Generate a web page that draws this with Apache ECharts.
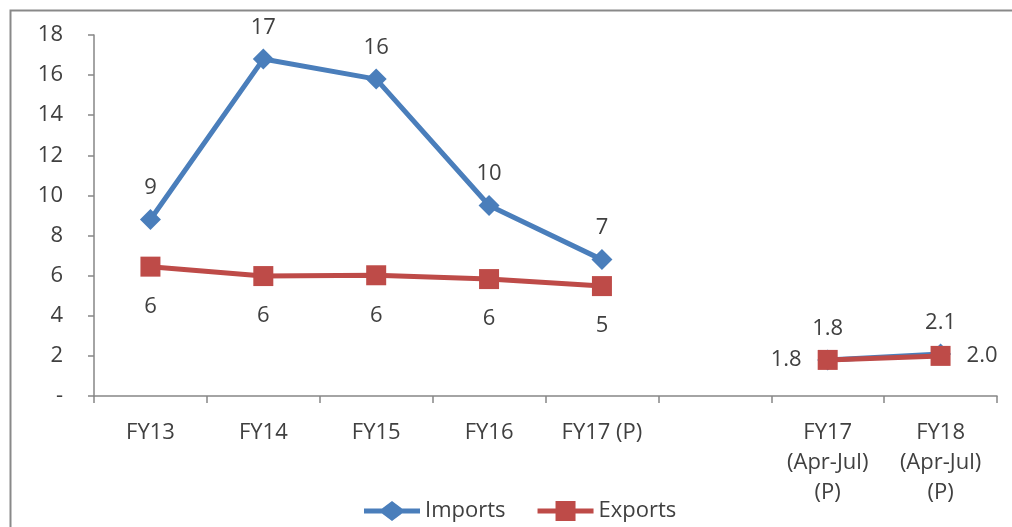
<!DOCTYPE html>
<html lang="en">
<head>
    <meta charset="UTF-8">
    <title>Imports and Exports</title>
    <script src="https://cdn.jsdelivr.net/npm/echarts@6/dist/echarts.min.js"></script>
    <style>
        html, body { margin: 0; padding: 0; background: #fff; }
    </style>
</head>
<body>
<div id="main" style="width: 1012px;height:527px;"></div>
<script>
    // data
    let categories = ['FY13', 'FY14', 'FY15', 'FY16', 'FY17 (P)', '', 'FY17\n(Apr-Jul)\n(P)', 'FY18\n(Apr-Jul)\n(P)'];
    let imports = [8.8, 16.8, 15.8, 9.5, 6.8, null, 1.8, 2.1];
    let exports = [6.45, 5.98, 6.02, 5.83, 5.48, null, 1.8, 2.0];
    // label placement per point (exports at the two quarterly points sit beside the mark)
    let exportLabelPos = ['bottom', 'bottom', 'bottom', 'bottom', 'bottom', 'bottom', 'left', 'right'];

    let textColor = '#404040';
    let font = 'Open Sans';
    let fs = 22;

    // legend icons: thick line with the marker in the middle
    let diamondIcon = 'path://M0,7.5L18,7.5L28,0L38,7.5L56,7.5L56,12.5L38,12.5L28,20L18,12.5L0,12.5Z';
    let squareIcon = 'path://M0,7.5L18,7.5L18,0L38,0L38,7.5L56,7.5L56,12.5L38,12.5L38,20L18,20L18,12.5L0,12.5Z';

    function fmt(v) {
        // yearly values shown rounded, the Apr-Jul ones with one decimal
        return v < 3 ? v.toFixed(1) : String(Math.round(v));
    }

    let chartDom = document.getElementById('main');
    let myChart = echarts.init(chartDom);
    let option;

    option = {
        animation: false,
        textStyle: { fontFamily: font },
        graphic: [
            {
                type: 'rect',
                left: 8, top: 8,
                shape: { width: 1100, height: 600 },
                style: { fill: 'none', stroke: '#898989', lineWidth: 2 },
                silent: true
            }
        ],
        grid: { left: 94, right: 15, top: 35, bottom: 131 },
        legend: {
            bottom: 0,
            left: 359,
            itemWidth: 56,
            itemHeight: 20,
            itemGap: 32,
            textStyle: { fontSize: fs, color: textColor, fontFamily: font },
            data: [
                { name: 'Imports', icon: diamondIcon },
                { name: 'Exports', icon: squareIcon }
            ]
        },
        xAxis: {
            type: 'category',
            data: categories,
            boundaryGap: true,
            axisLine: { lineStyle: { color: '#868686', width: 1.5 } },
            axisTick: { show: true, length: 7, lineStyle: { color: '#868686', width: 1.5 } },
            axisLabel: {
                color: textColor,
                fontSize: fs,
                fontFamily: font,
                lineHeight: 30,
                margin: 22,
                interval: 0
            }
        },
        yAxis: {
            type: 'value',
            min: 0,
            max: 18,
            interval: 2,
            splitLine: { show: false },
            axisLine: { show: true, lineStyle: { color: '#868686', width: 1.5 } },
            axisTick: { show: true, length: 6, lineStyle: { color: '#868686', width: 1.5 } },
            axisLabel: {
                color: textColor,
                fontSize: fs,
                fontFamily: font,
                margin: 31,
                formatter: function (v) { return v === 0 ? '-' : v; }
            }
        },
        series: [
            {
                name: 'Imports',
                type: 'line',
                data: imports,
                connectNulls: false,
                symbol: 'diamond',
                symbolSize: 21,
                color: '#4a7ebb',
                lineStyle: { width: 5, color: '#4a7ebb' },
                itemStyle: { color: '#4a7ebb' },
                label: {
                    show: true,
                    position: 'top',
                    distance: 10,
                    color: textColor,
                    fontSize: fs,
                    fontFamily: font,
                    formatter: function (p) { return fmt(p.value); }
                },
                z: 2
            },
            {
                name: 'Exports',
                type: 'line',
                data: exports.map(function (v, i) {
                    return {
                        value: v,
                        label: { position: exportLabelPos[i], distance: exportLabelPos[i] === 'bottom' ? 19 : 16 }
                    };
                }),
                connectNulls: false,
                symbol: 'rect',
                symbolSize: 20,
                color: '#be4b48',
                lineStyle: { width: 5, color: '#be4b48' },
                itemStyle: { color: '#be4b48' },
                label: {
                    show: true,
                    color: textColor,
                    fontSize: fs,
                    fontFamily: font,
                    formatter: function (p) { return fmt(p.value); }
                },
                z: 3
            }
        ]
    };

    option && myChart.setOption(option);
</script>
</body>
</html>
